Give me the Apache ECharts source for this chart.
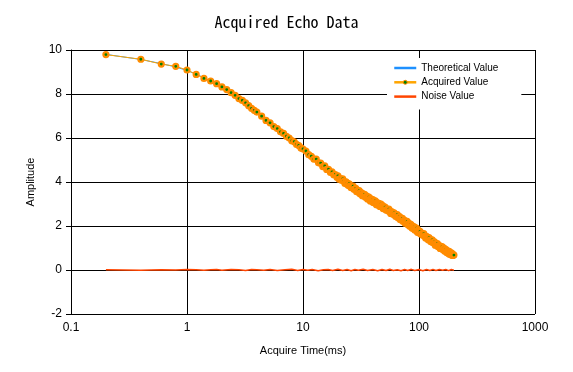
<!DOCTYPE html>
<html><head><meta charset="utf-8">
<script src="https://cdn.jsdelivr.net/npm/echarts@6/dist/echarts.min.js"></script>
<style>html,body{margin:0;padding:0;background:#fff}#c{width:573px;height:372px}</style>
</head><body><div id="c"></div>
<script>
const titleText = 'Acquired Echo Data';
const xAxisName = 'Acquire Time(ms)';
const yAxisName = 'Amplitude';
const seriesNames = ['Theoretical Value', 'Acquired Value', 'Noise Value'];
const xRange = [0.1, 1000];
const yRange = [-2, 10];
const yStep = 2;

const acqTimes = [0.2,0.4,0.6,0.8,1.0,1.2,1.4,1.6,1.8,2.0,2.2,2.4,2.6,2.8,3.0,3.2,3.4,3.6,3.8,4.0,
  4.4,4.8,5.2,5.6,6.0,6.4,6.8,7.2,7.6,8.0,8.4,8.8,9.2,9.6,10.0,
  10.6,11.2,11.8,12.4,13.0,13.6,14.2,14.8,15.4,16.0,16.6,17.2,17.8,18.4,19.0,19.6,
  20,20.5,21,21.5,22,22.5,23,23.5,24,24.5,25,25.5,26,26.5,27,27.5,28,28.5,29,29.5,30,30.5,31,31.5,32,32.5,33,33.5,34,34.5,35,35.5,36,36.5,37,37.5,38,38.5,39,39.5,40,40.5,41,41.5,42,42.5,43,43.5,44,44.5,45,45.5,46,46.5,47,47.5,48,48.5,49,49.5,50,
  51,52,53,54,55,56,57,58,59,60,61,62,63,64,65,66,67,68,69,70,71,72,73,74,75,76,77,78,79,80,81,82,83,84,85,86,87,88,89,90,91,92,93,94,95,96,97,98,99,100,
  102,104,106,108,110,112,114,116,118,120,122,124,126,128,130,132,134,136,138,140,142,144,146,148,150,152,154,156,158,160,162,164,166,168,170,172,174,176,178,180,182,184,186,188,190,192,194,196,198,200];
const acqValues = [9.79,9.58,9.36,9.26,9.09,8.89,8.71,8.59,8.47,8.32,8.20,8.06,7.94,7.79,7.71,7.60,7.47,7.35,7.26,7.18,
  6.99,6.80,6.69,6.52,6.43,6.28,6.21,6.08,6.00,5.88,5.83,5.71,5.66,5.55,5.50,
  5.41,5.24,5.17,5.04,5.04,4.87,4.86,4.70,4.73,4.57,4.58,4.44,4.46,4.33,4.34,4.22,
  4.28,4.13,4.16,4.08,4.14,4.03,3.93,4.01,3.95,3.85,3.92,3.81,3.74,3.80,3.81,3.67,3.68,3.71,3.56,3.62,3.54,3.61,3.47,3.51,3.51,3.38,3.45,3.39,3.44,3.31,3.31,3.36,3.23,3.29,3.31,3.20,3.14,3.23,3.17,3.11,3.20,3.06,3.12,3.07,3.14,3.02,2.97,3.06,3.02,2.95,3.03,2.94,2.89,2.98,2.99,2.87,2.89,2.93,2.79,2.87,2.81,
  2.86,2.73,2.76,2.69,2.77,2.66,2.57,2.66,2.61,2.52,2.60,2.50,2.43,2.50,2.52,2.38,2.40,2.43,2.28,2.35,2.28,2.35,2.21,2.25,2.26,2.13,2.21,2.15,2.21,2.07,2.07,2.12,1.99,2.05,2.07,1.97,1.91,2.00,1.94,1.87,1.96,1.82,1.88,1.83,1.90,1.77,1.72,1.81,1.77,1.69,
  1.76,1.62,1.65,1.58,1.65,1.54,1.45,1.53,1.48,1.38,1.47,1.36,1.29,1.36,1.37,1.24,1.25,1.28,1.13,1.20,1.13,1.20,1.06,1.10,1.11,0.98,1.06,1.00,1.06,0.93,0.93,0.99,0.86,0.92,0.94,0.84,0.78,0.87,0.82,0.75,0.85,0.71,0.78,0.72,0.78,0.67,0.73,0.66,0.69,0.68];

const theoTimes = [0.2,0.4,0.6,0.8,1,1.2,1.4,1.6,1.8,2,2.4,2.8,3.2,3.6,4,5,6,7,8,9,10,12,14,16,18,20,25,30,35,40,50,60,70,80,90,100,120,140,160,180,200];
const theoValues = [9.80,9.57,9.38,9.23,9.07,8.90,8.74,8.59,8.45,8.32,8.07,7.83,7.60,7.38,7.18,6.74,6.42,6.15,5.90,5.69,5.50,5.13,4.83,4.60,4.40,4.22,3.85,3.57,3.34,3.13,2.80,2.56,2.33,2.12,1.92,1.74,1.43,1.18,0.97,0.80,0.66];

const noiseTimes = [0.2,0.4,0.6,0.8,1.0,1.2,1.4,1.6,1.8,2.0,2.4,2.8,3.2,3.6,4.0,4.6,5.2,6,7,8,9,10,11,12,13.5,15,16.5,18,20,22,24,26,28,30,33,36,40,44,48,52,56,60,65,70,75,80,86,92,100,108,116,124,132,140,150,160,170,180,190,200];
const noiseValues = [0.01,-0.01,0.01,0.00,0.02,0.01,-0.01,0.01,0.02,-0.01,0.02,0.01,-0.02,0.02,0.01,-0.01,0.02,-0.02,0.01,0.03,-0.02,0.02,-0.01,0.02,-0.03,0.01,0.02,-0.02,0.03,-0.02,0.02,-0.03,0.02,-0.01,0.03,-0.02,0.02,-0.03,0.02,-0.02,0.03,-0.02,0.01,-0.03,0.02,-0.02,0.03,-0.02,0.02,-0.03,0.02,-0.02,0.03,-0.02,0.02,-0.01,0.02,-0.03,0.02,-0.01];

const zip = (xs, ys) => xs.map((x, i) => [x, ys[i]]);
const sans = '"Liberation Sans", Arial, sans-serif';
const lineIcon = 'path://M0,0L44,0L44,5L0,5Z';

const chart = echarts.init(document.getElementById('c'), null, {renderer: 'canvas'});
chart.setOption({
  animation: false,
  backgroundColor: '#fff',
  title: {
    text: titleText, left: 'center', top: 9,
    textStyle: {fontFamily: '"Noto Sans Mono CJK JP","Liberation Mono",monospace', fontSize: 16, fontWeight: 'normal', color: '#000'}
  },
  grid: {left: 71, right: 38, top: 50, bottom: 58},
  legend: {
    orient: 'vertical', left: 387, top: 58, padding: [4, 23, 7, 6],
    backgroundColor: '#fff', itemWidth: 22, itemHeight: 5, itemGap: 2.3,
    lineStyle: {width: 2.5},
    itemStyle: {borderWidth: 1},
    textStyle: {fontSize: 10, color: '#000', fontFamily: sans, lineHeight: 12},
    data: [{name: seriesNames[0], icon: lineIcon}, {name: seriesNames[1]}, {name: seriesNames[2], icon: lineIcon}],
    selectedMode: false
  },
  xAxis: {
    type: 'log', logBase: 10, min: xRange[0], max: xRange[1],
    name: xAxisName, nameLocation: 'middle', nameGap: 31,
    nameTextStyle: {fontSize: 11, color: '#000', fontFamily: sans},
    axisLine: {lineStyle: {color: '#000', width: 1}},
    axisTick: {show: true, length: 3, lineStyle: {color: '#000'}},
    axisLabel: {fontSize: 12, color: '#000', margin: 8, fontFamily: sans, formatter: v => String(Number(v.toPrecision(6)))},
    splitLine: {show: true, lineStyle: {color: '#000', width: 1}},
    minorTick: {show: false}
  },
  yAxis: {
    type: 'value', min: yRange[0], max: yRange[1], interval: yStep,
    name: yAxisName, nameLocation: 'middle', nameGap: 35,
    nameTextStyle: {fontSize: 11, color: '#000', fontFamily: sans},
    axisLine: {show: true, lineStyle: {color: '#000', width: 1}},
    axisTick: {show: true, length: 5, lineStyle: {color: '#000'}},
    axisLabel: {fontSize: 12, color: '#000', margin: 9, fontFamily: sans},
    splitLine: {show: true, lineStyle: {color: '#000', width: 1}}
  },
  series: [
    {
      name: seriesNames[0], type: 'line', data: zip(theoTimes, theoValues),
      symbol: 'none', color: '#1E90FF',
      lineStyle: {color: '#1E90FF', width: 1}, itemStyle: {color: '#1E90FF'},
      silent: true, z: 2
    },
    {
      name: seriesNames[1], type: 'line', data: zip(acqTimes, acqValues),
      symbol: 'circle', symbolSize: 5, showSymbol: true,
      lineStyle: {color: '#FFA500', width: 1},
      itemStyle: {color: '#008000', borderColor: '#FF8C00', borderWidth: 2.2},
      silent: true, z: 3
    },
    {
      name: seriesNames[2], type: 'line', data: zip(noiseTimes, noiseValues),
      symbol: 'none', color: '#FF4500',
      lineStyle: {color: '#FF4500', width: 1.5}, itemStyle: {color: '#FF4500'},
      silent: true, z: 4
    }
  ]
});
</script></body></html>
